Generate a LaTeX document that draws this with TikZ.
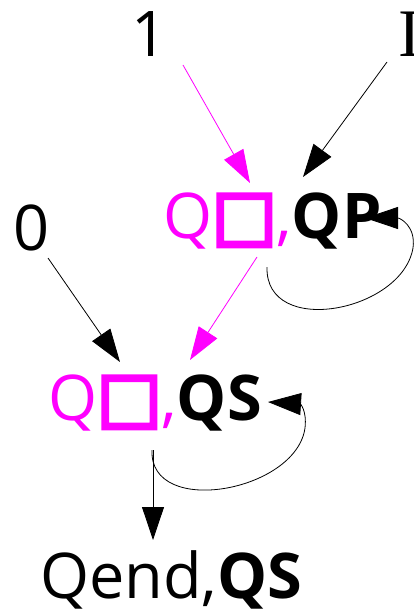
\documentclass[tikz,border=0pt]{standalone}
\usepackage{fontspec}
\setmainfont{Open Sans}
\newfontfamily\serifI{Liberation Serif}
\newfontfamily\boxfont{DejaVu Sans}
\usepackage{tikz}
\usetikzlibrary{arrows.meta,calc}
\usepackage{xcolor}
\definecolor{rosa}{RGB}{255,0,255}

\tikzset{
  lbl/.style={inner sep=0pt, font=\fontsize{63}{70}\selectfont},
  seta/.style={line width=0.8pt, -{Triangle[length=33pt,width=22pt]}},
  setarosa/.style={seta, rosa}
}
\newcommand{\qbox}{{\color{rosa}Q{\boxfont\fontsize{68}{70}\selectfont\special{pdf:code 2 Tr 4 w}□\special{pdf:code 0 Tr 1 w}},}}

\begin{document}
\begin{tikzpicture}[x=1pt, y=-1pt]
        \useasboundingbox (0,0) rectangle (414,612);

        % Entradas
        \node[lbl, anchor=base] (um) at (150,57) {1};
        \node[lbl, anchor=base] (zero) at (32,250) {0};
        \node[lbl, anchor=base west, font=\serifI\fontsize{68}{70}\selectfont] (eye) at (398,57) {I};

        % Estados
        \node[lbl, anchor=base west] (qp) at (163,238) {\qbox\textbf{QP}};
        \node[lbl, anchor=base west] (qs) at (48,420) {\qbox\textbf{QS}};
        \node[lbl, anchor=base west] (qend) at (40,598) {Qend,\textbf{QS}};

        % Setas
        \draw[setarosa] ($(um.base)+(33,8)$) -- ($(qp.base west)+(87,-55)$);
        \draw[seta] ($(eye.base west)+(-11,5)$) -- ($(qp.base west)+(140,-61)$);
        \draw[seta] ($(zero.base)+(16,8)$) -- ($(qs.base west)+(72,-58)$);
        \draw[setarosa] ($(qp.base west)+(94,19)$) -- ($(qs.base west)+(142,-60)$);
        \draw[seta] ($(qs.base west)+(105,30)$) -- ($(qend.base west)+(113,-58)$);

        % Lacos
        \draw[seta] ($(qp.base west)+(104,29)$) .. controls (265,338) and (402,312) .. (413,248) .. controls (416,226) and (400,218) .. ($(qp.base west)+(202,-20)$);
        \draw[seta] ($(qs.base west)+(104,30)$) .. controls (149,518) and (296,492) .. (305,428) .. controls (307,410) and (300,404) .. ($(qs.base west)+(220,-18)$);
    \end{tikzpicture}
\end{document}
